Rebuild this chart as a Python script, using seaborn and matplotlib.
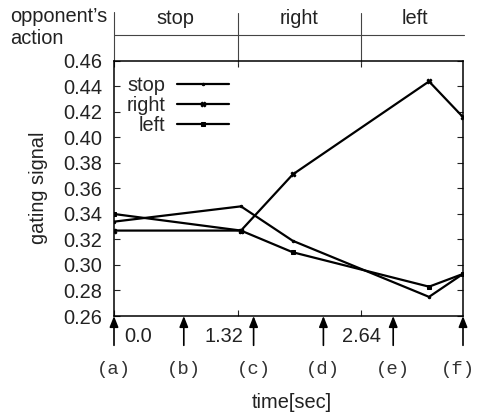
import matplotlib
matplotlib.use("Agg")
import matplotlib.pyplot as plt
import pandas as pd
import seaborn as sns

# Values
times = [0.0, 1.357, 1.91, 3.367, 3.73]
stop = [0.334, 0.346, 0.319, 0.275, 0.293]
right = [0.327, 0.327, 0.371, 0.444, 0.416]
left = [0.340, 0.327, 0.310, 0.283, 0.293]
series_names = ["stop", "right", "left"]

y_ticks = [0.26, 0.28, 0.30, 0.32, 0.34, 0.36, 0.38, 0.40, 0.42, 0.44, 0.46]
x_tick_labels = ["0.0", "1.32", "2.64"]
x_ticks = [0.0, 1.32, 2.64]
phase_bounds = [0.0, 1.32, 2.64, 3.73]
phase_names = ["stop", "right", "left"]
arrow_times = [0.0, 0.746, 1.492, 2.238, 2.984, 3.73]
arrow_labels = ["(a)", "(b)", "(c)", "(d)", "(e)", "(f)"]

df = pd.DataFrame({
    "time": times * 3,
    "gating": stop + right + left,
    "series": ["stop"] * 5 + ["right"] * 5 + ["left"] * 5,
})

sns.set_style("ticks")
plt.rcParams["font.family"] = ["Liberation Sans", "DejaVu Sans"]
fs = 14.4

fig = plt.figure(figsize=(4.78, 4.16), dpi=100)
ax = fig.add_axes([114 / 478, 1 - 316 / 416, 349 / 478, 255 / 416])

sns.lineplot(data=df, x="time", y="gating", hue="series", style="series",
             hue_order=series_names, style_order=series_names,
             palette=["black"] * 3, markers=[".", "X", "s"], dashes=False,
             sort=False, lw=1.6, markersize=3.5, legend=False, ax=ax)
for ln in ax.lines:
    ln.set_markeredgecolor("black")
    ln.set_markerfacecolor("black")

ax.set_xlim(0, 3.73)
ax.set_ylim(0.26, 0.46)
ax.set_yticks(y_ticks)
ax.set_yticklabels([f"{v:.2f}" for v in y_ticks])
ax.set_xticks(x_ticks)
ax.set_xticklabels([])
ax.set_xlabel("")
ax.set_ylabel("")
ax.tick_params(direction="in", length=4, width=0.8, labelsize=fs, pad=8.5,
               colors="#222222", top=True, right=True)
for s in ax.spines.values():
    s.set_linewidth(1.1)
    s.set_color("black")

# legend with text before the line sample
ax.legend(ax.lines[:3], series_names, loc="upper left",
          bbox_to_anchor=(0.035, 0.94), frameon=False, markerfirst=False,
          fontsize=fs, handlelength=2.6, handletextpad=0.6,
          labelspacing=0.05, borderpad=0, borderaxespad=0)

# x tick labels placed beside the arrows
xt = ax.get_xaxis_transform()
label_x = [0.256, 1.176, 2.64]
for x, lab in zip(label_x, x_tick_labels):
    ax.text(x, -0.08, lab, transform=xt, ha="center", va="center",
            fontsize=fs, color="#222222", clip_on=False)

# arrows and frame labels (last label nudged in so it fits)
label_pos = arrow_times[:-1] + [3.675]
for t, lx, lab in zip(arrow_times, label_pos, arrow_labels):
    ax.annotate("", xy=(t, 0), xycoords=xt, xytext=(t, -0.115), textcoords=xt,
                arrowprops=dict(arrowstyle="-|>,head_length=0.5,head_width=0.2",
                                color="black", lw=1.2, mutation_scale=13,
                                shrinkA=0, shrinkB=0),
                annotation_clip=False)
    ax.text(lx, -0.208, lab, transform=xt, ha="center", va="center",
            fontsize=13.6, family="Liberation Mono", color="#333333",
            clip_on=False)

# opponent's action header
ax.plot([0, 3.74], [1.102, 1.102], transform=xt, color="#444444", lw=0.8,
        clip_on=False)
ax.plot([0, 0], [1.0, 1.192], transform=xt, color="#444444", lw=0.8, clip_on=False)
for b in phase_bounds[1:3]:
    ax.plot([b, b], [0.992, 1.188], transform=xt, color="#444444", lw=0.8,
            clip_on=False)
centers = [0.66, 1.98, 3.22]
for c, name in zip(centers, phase_names):
    ax.text(c, 1.165, name, transform=xt, ha="center", va="center",
            fontsize=fs, color="#222222", clip_on=False)

fig.text(10 / 478, 1 - 16 / 416, "opponent\u2019s", ha="left", va="center",
         fontsize=fs, color="#222222")
fig.text(10 / 478, 1 - 39 / 416, "action", ha="left", va="center",
         fontsize=fs, color="#222222")
fig.text(39 / 478, 1 - 188 / 416, "gating signal", rotation=90, ha="center",
         va="center", fontsize=fs, color="#222222")
fig.text(292 / 478, 1 - 403 / 416, "time[sec]", ha="center", va="center",
         fontsize=fs, color="#222222")

fig.savefig("out.png", dpi=100)
